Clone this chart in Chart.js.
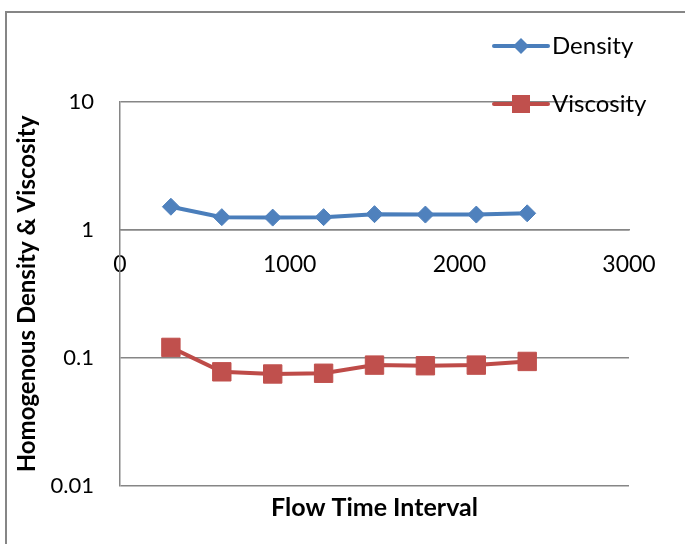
<!DOCTYPE html>
<html>
<head>
<meta charset="utf-8">
<script src="https://cdn.jsdelivr.net/npm/chart.js@4/dist/chart.umd.min.js"></script>
<style>
  html, body { margin: 0; padding: 0; background: #fff; overflow: hidden; }
  #wrap { position: relative; width: 685px; height: 544px; }
  #frame {
    position: absolute; left: 5px; top: 11px; width: 720px; height: 600px;
    border-left: 2px solid #868686; border-top: 2px solid #868686;
  }
  #myChart { position: absolute; left: 0; top: 0; }
</style>
</head>
<body>
<div id="wrap">
  <div id="frame"></div>
  <canvas id="myChart" width="685" height="544"></canvas>
</div>
<script>
const timeIntervals = [300, 600, 900, 1200, 1500, 1800, 2100, 2400];
const densityValues = [1.52, 1.26, 1.25, 1.26, 1.33, 1.32, 1.32, 1.35];
const viscosityValues = [0.121, 0.078, 0.075, 0.076, 0.088, 0.087, 0.088, 0.094];
const yTickValues = [0.01, 0.1, 1, 10];
const xTickStep = 1000;

const gridGrey = "#868686";
const fontFamily = "Lato, 'Open Sans', sans-serif";

function toPoints(values) {
  return timeIntervals.map((t, i) => ({ x: t, y: values[i] }));
}

// legend drawn at the top right, overlapping the plot like the original
const cornerLegend = {
  id: "cornerLegend",
  afterDraw(chart) {
    const ctx = chart.ctx;
    const rows = [46, 104];
    chart.data.datasets.forEach((ds, i) => {
      const y = rows[i];
      ctx.save();
      ctx.strokeStyle = ds.borderColor;
      ctx.lineWidth = 4;
      ctx.lineCap = "round";
      ctx.beginPath();
      ctx.moveTo(494, y);
      ctx.lineTo(548, y);
      ctx.stroke();
      ctx.fillStyle = ds.pointBackgroundColor;
      ctx.beginPath();
      if (ds.pointStyle === "rectRot") {
        ctx.moveTo(521, y - 8);
        ctx.lineTo(529, y);
        ctx.lineTo(521, y + 8);
        ctx.lineTo(513, y);
      } else {
        ctx.rect(512, y - 9, 18, 18);
      }
      ctx.closePath();
      ctx.fill();
      ctx.fillStyle = "#000";
      ctx.font = "24px " + fontFamily;
      ctx.textBaseline = "middle";
      ctx.textAlign = "left";
      ctx.fillText(ds.label, 552, y);
      ctx.restore();
    });
  },
};

const ctx = document.getElementById("myChart");

const myChart = new Chart(ctx, {
  type: "line",
  data: {
    datasets: [
      {
        label: "Density",
        data: toPoints(densityValues),
        borderColor: "#4A7EBB",
        backgroundColor: "#4F81BD",
        pointBackgroundColor: "#4F81BD",
        pointBorderColor: "#4F81BD",
        pointStyle: "rectRot",
        pointRadius: 8.5,
        pointBorderWidth: 1,
        borderWidth: 4,
        tension: 0,
        fill: false,
      },
      {
        label: "Viscosity",
        data: toPoints(viscosityValues),
        borderColor: "#BE4B48",
        backgroundColor: "#C0504D",
        pointBackgroundColor: "#C0504D",
        pointBorderColor: "#C0504D",
        pointStyle: "rect",
        pointRadius: 13,
        pointBorderWidth: 1,
        borderWidth: 4,
        tension: 0,
        fill: false,
      },
    ],
  },
  options: {
    responsive: false,
    animation: false,
    events: [],
    layout: {
      padding: { top: 102, right: 56, left: 0, bottom: 0 },
    },
    plugins: {
      legend: { display: false },
      tooltip: { enabled: false },
    },
    scales: {
      x: {
        type: "linear",
        position: { y: 1 },
        min: 0,
        max: 3000,
        afterFit: (s) => { s.height = 0; },
        ticks: {
          stepSize: xTickStep,
          color: "#000",
          padding: 21,
          maxRotation: 0,
          font: { family: fontFamily, size: 23 },
          callback: (v) => String(v),
        },
        grid: { display: false, drawTicks: false },
        border: { display: true, color: gridGrey, width: 1.5 },
      },
      x2: {
        type: "linear",
        position: "bottom",
        min: 0,
        max: 3000,
        afterFit: (s) => { s.height = 58; },
        ticks: { display: false },
        grid: { display: false, drawTicks: false },
        border: { display: false },
        title: {
          display: true,
          text: "Flow Time Interval",
          color: "#000",
          padding: { top: 0, bottom: 21 },
          font: { family: fontFamily, size: 25, weight: "bold" },
        },
      },
      y: {
        type: "logarithmic",
        min: 0.01,
        max: 10,
        afterFit: (s) => { s.width = 120; },
        afterBuildTicks: (s) => {
          s.ticks = yTickValues.map((v) => ({ value: v }));
        },
        ticks: {
          color: "#000",
          padding: 26,
          font: { family: fontFamily, size: 22 },
          callback: (v) => String(v),
        },
        grid: { color: gridGrey, lineWidth: 1.5, drawTicks: false },
        border: { display: true, color: gridGrey, width: 1.5 },
        title: {
          display: true,
          text: "Homogenous Density & Viscosity",
          color: "#000",
          padding: { top: 13, bottom: 0 },
          font: { family: fontFamily, size: 24, weight: "bold" },
        },
      },
    },
  },
  plugins: [cornerLegend],
});
</script>
</body>
</html>
